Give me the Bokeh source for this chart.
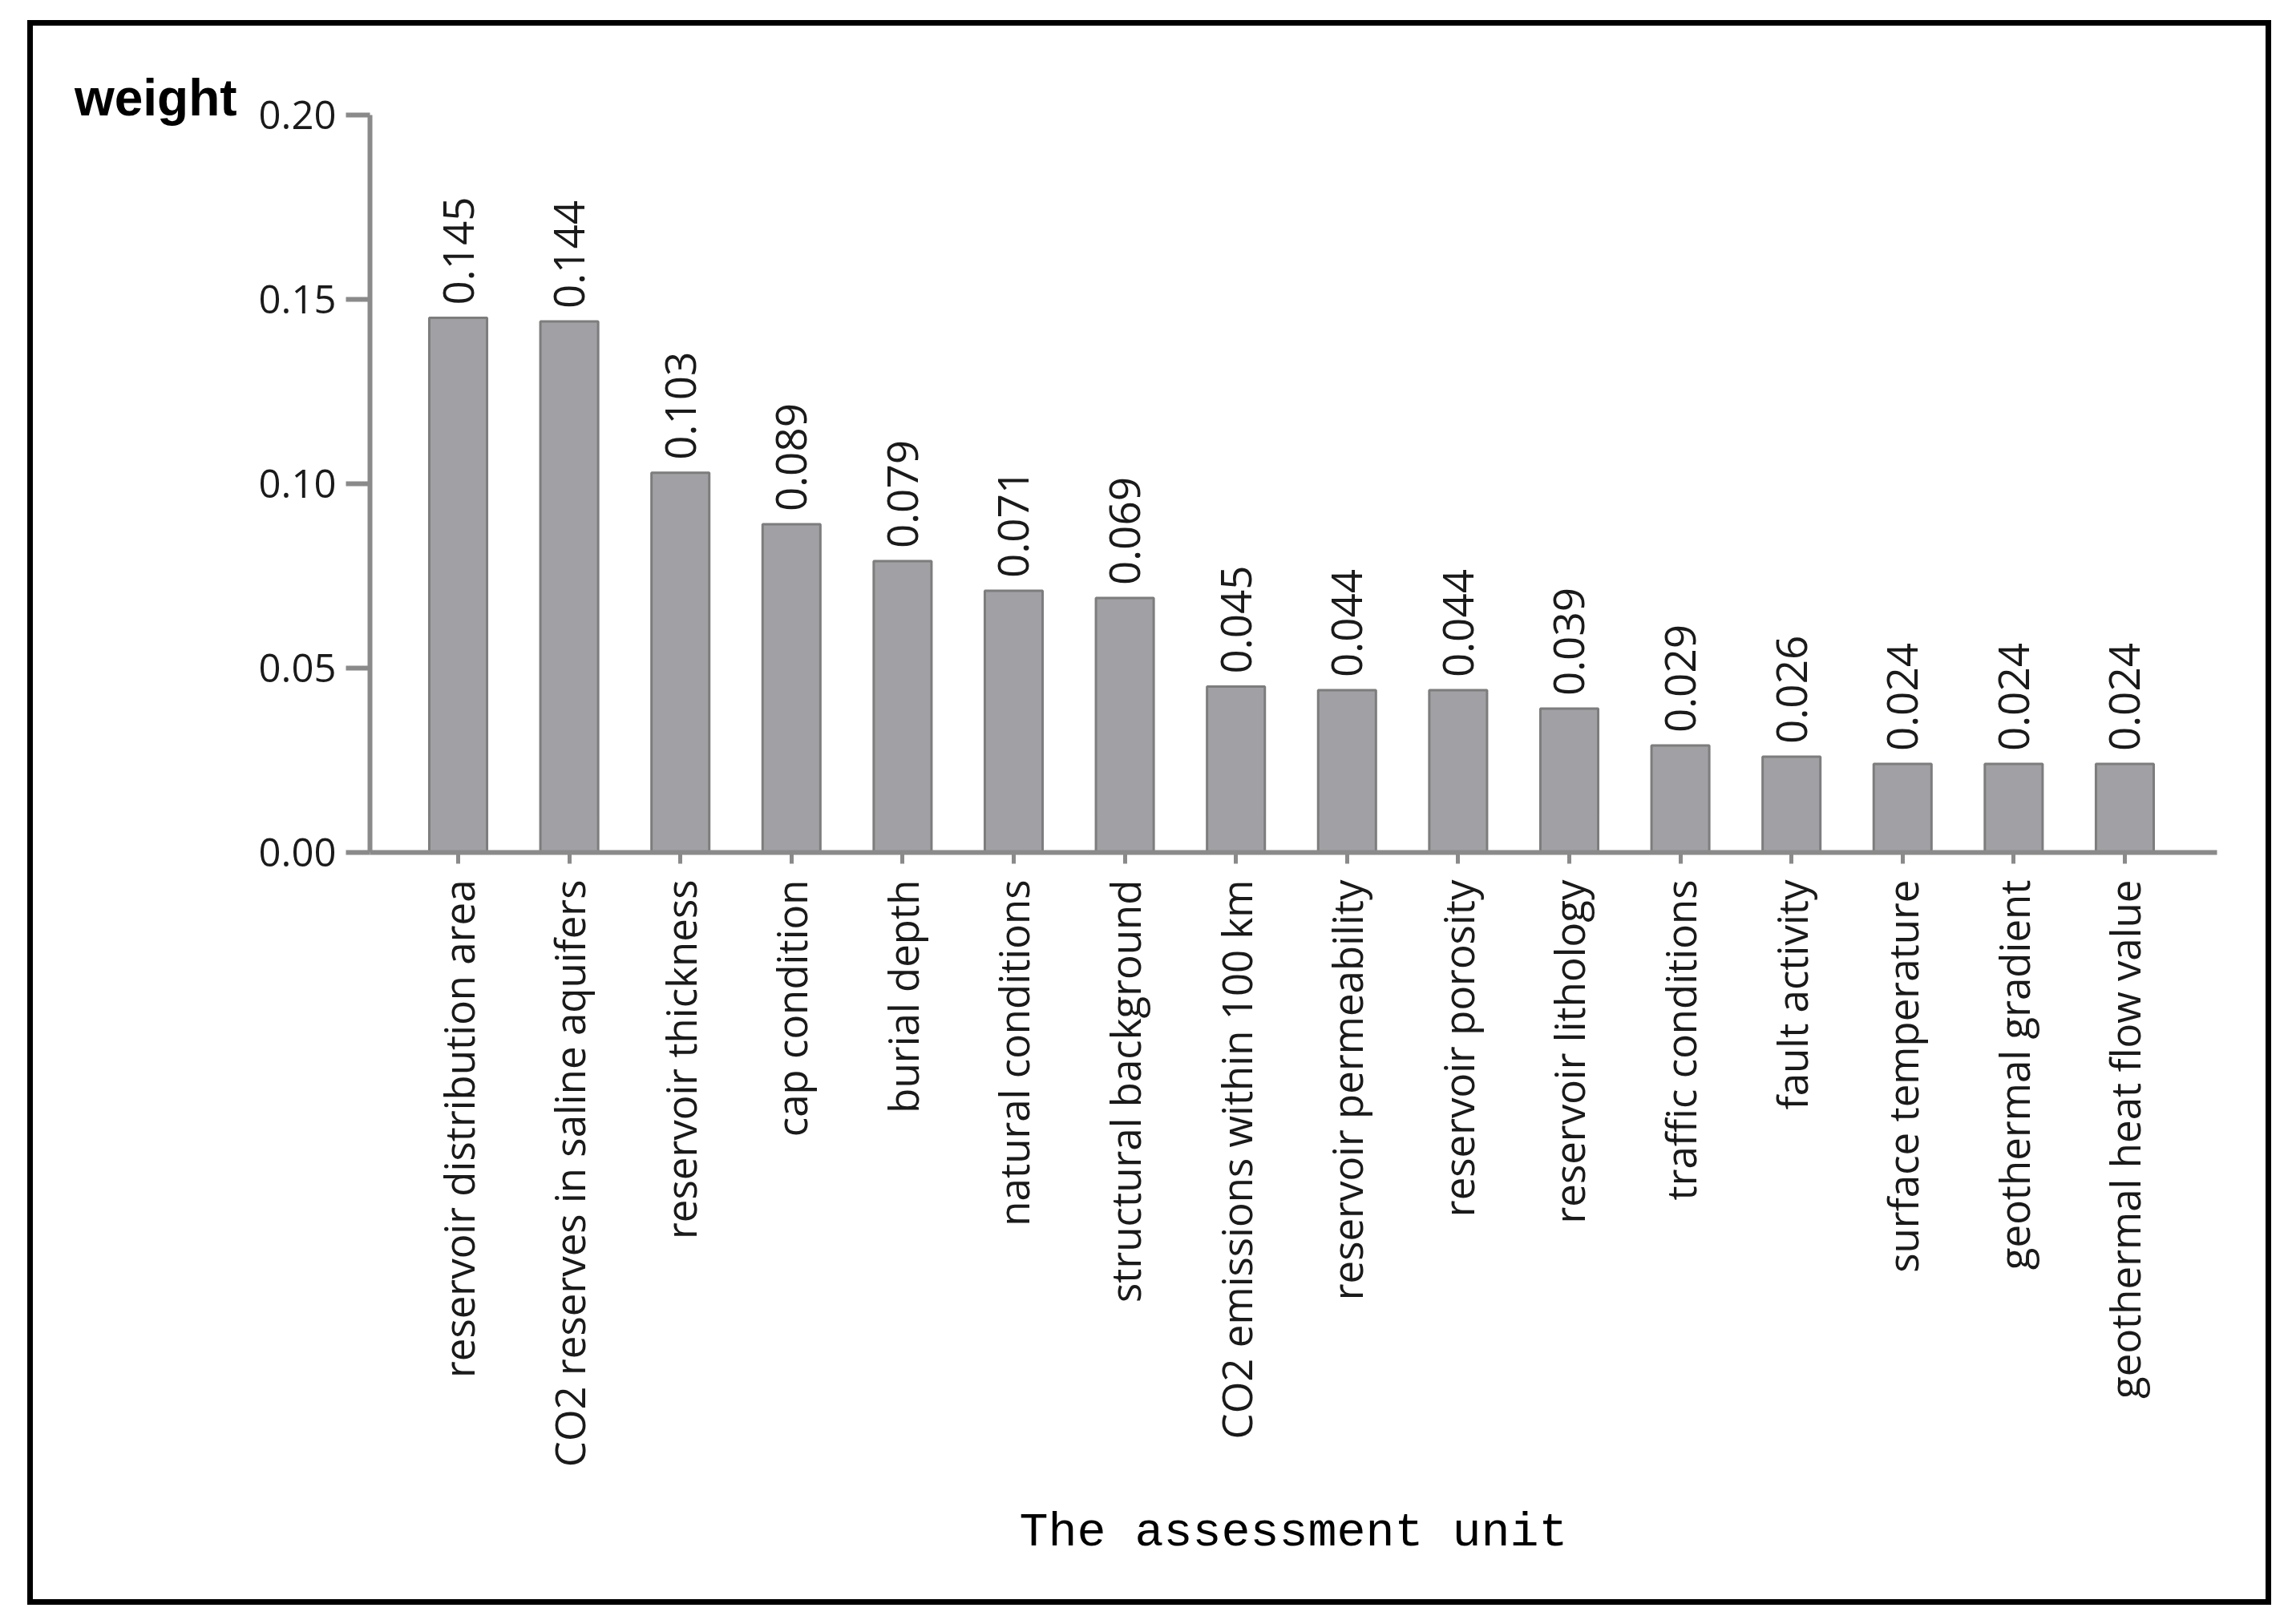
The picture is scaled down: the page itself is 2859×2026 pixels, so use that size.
import math
from bokeh.plotting import figure
from bokeh.models import (ColumnDataSource, Range1d, FixedTicker, CustomJSTickFormatter,
                          PrintfTickFormatter, LabelSet)
from bokeh.core.properties import value
from bokeh.embed import file_html
from bokeh.resources import INLINE

# ---- data ----
categories = [
    "reservoir distribution area",
    "CO2 reserves in saline aquifers",
    "reservoir thickness",
    "cap condition",
    "burial depth",
    "natural conditions",
    "structural background",
    "CO2 emissions within 100 km",
    "reservoir permeability",
    "reservoir porosity",
    "reservoir lithology",
    "traffic conditions",
    "fault activity",
    "surface temperature",
    "geothermal gradient",
    "geothermal heat flow value",
]
weights = [0.145, 0.144, 0.103, 0.089, 0.079, 0.071, 0.069, 0.045,
           0.044, 0.044, 0.039, 0.029, 0.026, 0.024, 0.024, 0.024]
y_ticks = [0.00, 0.05, 0.10, 0.15, 0.20]
y_title = "weight"
x_title = "The assessment unit"

positions = list(range(len(categories)))
source = ColumnDataSource(dict(
    x=positions,
    top=weights,
    lbl=["%.3f" % w for w in weights],
))

AXIS_COLOR = "#8a8a8a"
TEXT_FONT = "Open Sans"

p = figure(
    frame_width=2304, frame_height=920,
    min_border_left=420, min_border_right=61,
    min_border_top=111, min_border_bottom=932,
    x_range=Range1d(-0.7937, 15.83),
    y_range=Range1d(0.0, 0.20),
    output_backend="svg", toolbar_location=None,
    background_fill_color="white", border_fill_color="white",
)
p.outline_line_color = None
p.grid.visible = False
p.styles = {"border": "7px solid black", "margin-left": "34px", "margin-top": "25px"}

p.vbar(x="x", top="top", bottom=0, width=0.52, source=source,
       fill_color="#a1a1a5", line_color="#7d7d7d", line_width=3)

# y axis
ya = p.yaxis[0]
ya.ticker = FixedTicker(ticks=y_ticks, minor_ticks=[])
ya.formatter = PrintfTickFormatter(format="%.2f")
ya.axis_line_color = AXIS_COLOR
ya.axis_line_width = 6
ya.major_tick_line_color = AXIS_COLOR
ya.major_tick_line_width = 6
ya.major_tick_out = 30
ya.major_tick_in = 0
ya.minor_tick_line_color = None
ya.major_label_standoff = 12
ya.major_label_text_font = TEXT_FONT
ya.major_label_text_font_size = "49px"
ya.major_label_text_color = "#1a1a1a"
# trailing empty line lifts the label so it sits beside the 0.20 tick
ya.axis_label = y_title + "\n"
ya.axis_label_orientation = "horizontal"
ya.axis_label_align = "end"
ya.axis_label_standoff = 24
ya.axis_label_text_font = "Liberation Sans"
ya.axis_label_text_font_style = "bold"
ya.axis_label_text_font_size = "64px"
ya.axis_label_text_line_height = 0.6
ya.axis_label_text_color = "black"

# x axis
xa = p.xaxis[0]
xa.ticker = FixedTicker(ticks=positions, minor_ticks=[])
xa.formatter = CustomJSTickFormatter(args=dict(cats=categories),
                                     code="const i = Math.round(tick); return (i >= 0 && i < cats.length) ? cats[i] : '';")
xa.axis_line_color = AXIS_COLOR
xa.axis_line_width = 6
xa.major_tick_line_color = AXIS_COLOR
xa.major_tick_line_width = 5
xa.major_tick_out = 14
xa.major_tick_in = 0
xa.minor_tick_line_color = None
xa.major_label_orientation = math.pi / 2
xa.major_label_standoff = 20
xa.major_label_text_font = TEXT_FONT
xa.major_label_text_font_size = "51px"
xa.major_label_text_color = "#1a1a1a"
xa.axis_label = x_title
xa.axis_label_standoff = 45
xa.axis_label_text_font = "Liberation Mono"
xa.axis_label_text_font_style = "normal"
xa.axis_label_text_font_size = "60px"
xa.axis_label_text_color = "black"

# value labels above bars
labels = LabelSet(x="x", y="top", text="lbl", source=source,
                  angle=math.pi / 2, text_align="left", text_baseline="middle",
                  y_offset=16, text_font=value(TEXT_FONT), text_font_size=value("53px"),
                  text_color="#1a1a1a")
p.add_layout(labels)

open("out.html", "w").write(file_html(p, INLINE))
